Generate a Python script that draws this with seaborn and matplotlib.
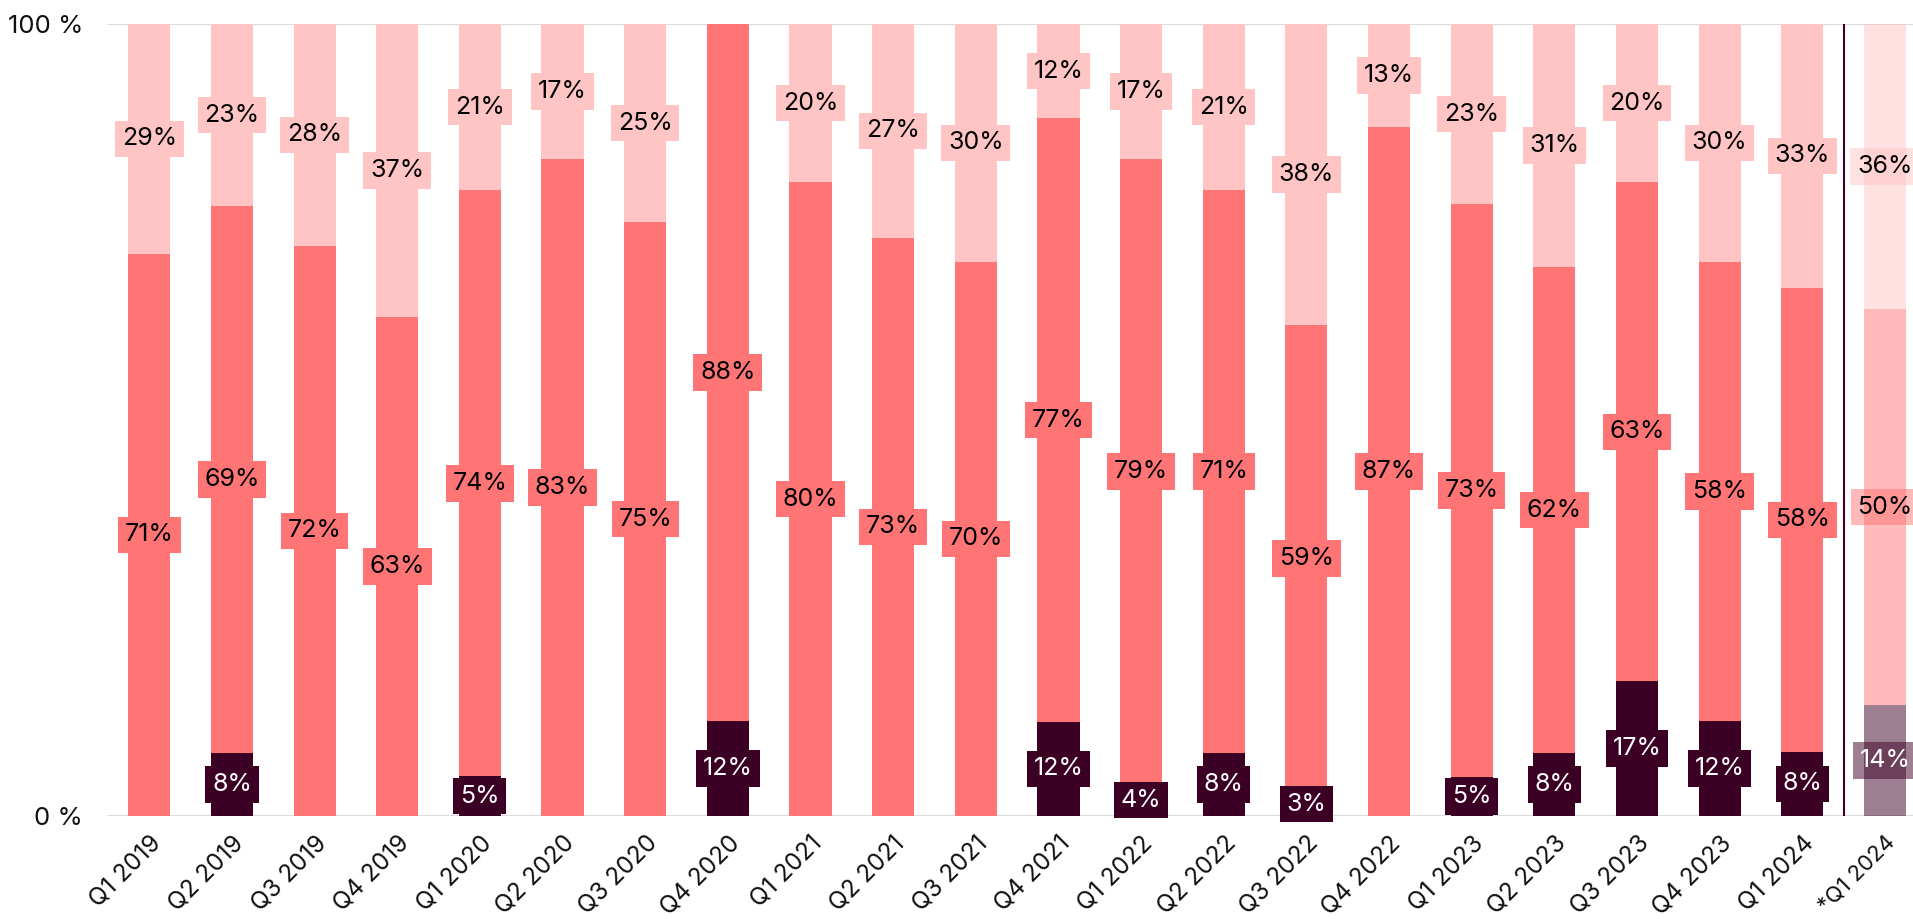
import matplotlib
matplotlib.use("Agg")
import matplotlib.pyplot as plt
import seaborn as sns
import numpy as np
import pandas as pd

categories = ["Q1 2019", "Q2 2019", "Q3 2019", "Q4 2019", "Q1 2020", "Q2 2020", "Q3 2020",
              "Q4 2020", "Q1 2021", "Q2 2021", "Q3 2021", "Q4 2021", "Q1 2022", "Q2 2022",
              "Q3 2022", "Q4 2022", "Q1 2023", "Q2 2023", "Q3 2023", "Q4 2023", "Q1 2024",
              "*Q1 2024"]
bottom_vals = [0, 8, 0, 0, 5, 0, 0, 12, 0, 0, 0, 12, 4, 8, 3, 0, 5, 8, 17, 12, 8, 14]
middle_vals = [71, 69, 72, 63, 74, 83, 75, 88, 80, 73, 70, 77, 79, 71, 59, 87, 73, 62, 63, 58, 58, 50]
top_vals = [29, 23, 28, 37, 21, 17, 25, 0, 20, 27, 30, 12, 17, 21, 38, 13, 23, 31, 20, 30, 33, 36]
forecast = [False] * 21 + [True]
y_ticks = [0, 100]
y_tick_labels = ["0 %", "100 %"]

c_dark = "#3c0024"
c_mid = "#ff7474"
c_top = "#ffc4c4"

sns.set_theme(style="white")
plt.rcParams["font.family"] = ["Inter", "DejaVu Sans"]

df = pd.DataFrame({"cat": categories, "bottom": bottom_vals, "middle": middle_vals,
                   "top": top_vals, "forecast": forecast})
totals = df[["bottom", "middle", "top"]].sum(axis=1).to_numpy(dtype=float)

fig = plt.figure(figsize=(19.13, 9.19), dpi=100)
ax = fig.add_axes([108 / 1913, 1 - 816 / 919, 1 - 108 / 1913, (816 - 24) / 919])

x = np.arange(len(df))
width = 0.51
FS = 18
layers = [("bottom", c_dark, "white"), ("middle", c_mid, "black"), ("top", c_top, "black")]
base = np.zeros(len(df))
for col, color, tcolor in layers:
    raw = df[col].to_numpy(dtype=float)
    vals = raw / totals * 100.0
    for i in range(len(df)):
        if raw[i] <= 0:
            continue
        alpha = 0.5 if df["forecast"][i] else 1.0
        ax.bar(x[i], vals[i], bottom=base[i], width=width, color=color, alpha=alpha,
               edgecolor="none", linewidth=0, zorder=2)
    base_prev = base.copy()
    base = base + vals
    for i in range(len(df)):
        if raw[i] <= 0:
            continue
        alpha = 0.5 if df["forecast"][i] else 1.0
        yc = base_prev[i] + vals[i] / 2
        ax.text(x[i], yc, f"{int(raw[i])}%", ha="center", va="center", fontsize=FS,
                color=tcolor, zorder=4, clip_on=False,
                bbox=dict(boxstyle="square,pad=0.27", fc=color, ec="none", alpha=alpha))

ax.axhline(0, color="#dddddd", lw=1.5, zorder=1)
ax.axhline(100, color="#dddddd", lw=1.5, zorder=1)
ax.vlines(20.5, 0, 100, color=c_dark, lw=1.5, zorder=3)

ax.set_xlim(-0.50, len(df) - 1 + 0.34)
ax.set_ylim(0, 100)
ax.set_yticks(y_ticks)
ax.set_yticklabels(y_tick_labels, fontsize=18.5, color="#111111")
ax.set_xticks(x)
ax.set_xticklabels(categories, rotation=45, ha="right", va="top", rotation_mode="anchor",
                   fontsize=17.5, color="#111111")
ax.get_xticklabels()[-1].set_fontsize(16)
ax.tick_params(axis="x", length=0, pad=11)
ax.tick_params(axis="y", length=0, pad=18)
for s in ax.spines.values():
    s.set_visible(False)
ax.grid(False)

fig.savefig("out.png", dpi=100)
